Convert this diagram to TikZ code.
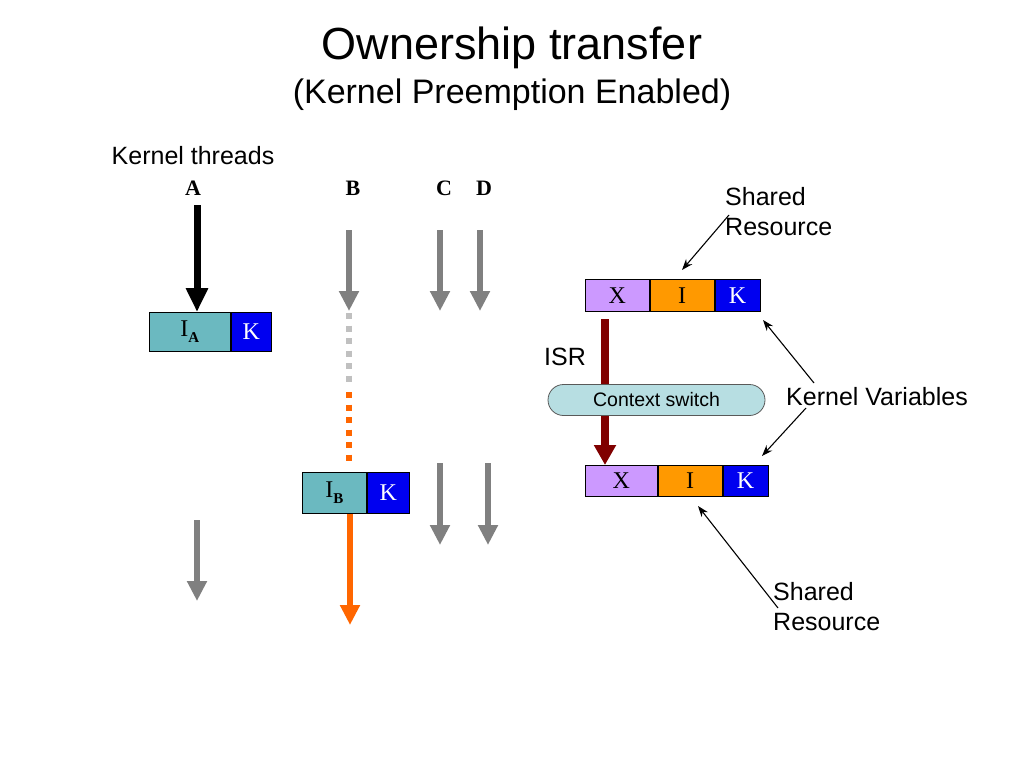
\documentclass[tikz,border=0pt]{standalone}
\usepackage{fontspec}
\setmainfont{Liberation Serif}
\newfontfamily\arialf{Liberation Sans}
\usetikzlibrary{arrows.meta,shapes.misc}
\definecolor{tealc}{RGB}{107,185,192}
\definecolor{kblue}{RGB}{0,0,240}
\definecolor{lav}{RGB}{204,153,255}
\definecolor{orng}{RGB}{255,153,0}
\definecolor{agray}{RGB}{128,128,128}
\definecolor{lgray}{RGB}{192,192,192}
\definecolor{orng2}{RGB}{255,102,0}
\definecolor{dred}{RGB}{128,0,0}
\definecolor{pillc}{RGB}{183,222,226}
\tikzset{
  cell/.style={draw=black, line width=0.8pt, inner sep=0pt, anchor=north west, font=\fontsize{24}{26}\selectfont},
  kcell/.style={cell, fill=kblue, text=white},
  sans/.style={font=\arialf\fontsize{25}{30}\selectfont, inner sep=0pt},
  thr/.style={font=\bfseries\fontsize{22}{24}\selectfont, inner sep=0pt},
  blockarrow/.style={line width=6pt, -{Triangle[width=19pt,length=20pt]}},
  thinarrow/.style={line width=1.1pt, -{Stealth[length=11pt,width=8pt]}},
  dotline/.style={line width=6pt, dash pattern=on 6pt off 6.5pt},
}
\begin{document}
\begin{tikzpicture}[x=1pt,y=-1pt]
\useasboundingbox (0,0) rectangle (1024,768);
\fill[white] (0,0) rectangle (1024,768);

% titles
\node[font=\arialf\fontsize{45}{50}\selectfont, inner sep=0pt] (title) at (512,48) {Ownership transfer};
\node[font=\arialf\fontsize{34}{38}\selectfont, inner sep=0pt] (subtitle) at (512,95) {(Kernel Preemption Enabled)};

% thread labels
\node[sans] (kt) at (193,156) {Kernel threads};
\node[thr] (la) at (193,188) {A};
\node[thr] (lb) at (353,188) {B};
\node[thr] (lc) at (444,188) {C};
\node[thr] (ld) at (484,188) {D};

% left boxes
\node[cell, fill=tealc, minimum width=81pt, minimum height=39pt] (ia) at (149,312) {I\raisebox{-6pt}{\fontsize{15}{15}\selectfont\bfseries A}};
\node[kcell, minimum width=40pt, minimum height=39pt] (iak) at (ia.north east) {K};

\node[cell, fill=tealc, minimum width=64pt, minimum height=41pt] (ib) at (302,472) {I\raisebox{-6pt}{\fontsize{15}{15}\selectfont\bfseries B}};
\node[kcell, minimum width=42pt, minimum height=41pt] (ibk) at (ib.north east) {K};

% arrows of threads
\coordinate (as) at (197,205);
\draw[blockarrow, line width=7pt, black, -{Triangle[width=21pt,length=24pt]}] (as) -- (as |- ia.north);

\coordinate (bs) at (349,230);
\coordinate (be) at (349,311);
\coordinate (cs1) at (440,230);
\coordinate (ce1) at (440,311);
\coordinate (ds1) at (480,230);
\coordinate (de1) at (480,311);
\draw[blockarrow, agray] (bs) -- (be);
\draw[blockarrow, agray] (cs1) -- (ce1);
\draw[blockarrow, agray] (ds1) -- (de1);

\coordinate (gd1) at (349,313);
\coordinate (gd2) at (349,386);
\coordinate (od1) at (349,392);
\coordinate (od2) at (349,464);
\draw[dotline, lgray] (gd1) -- (gd2);
\draw[dotline, orng2] (od1) -- (od2);

\coordinate (cs2) at (440,463);
\coordinate (ce2) at (440,545);
\coordinate (ds2) at (488,463);
\coordinate (de2) at (488,545);
\draw[blockarrow, agray] (cs2) -- (ce2);
\draw[blockarrow, agray] (ds2) -- (de2);

\coordinate (as2) at (197,520);
\coordinate (ae2) at (197,601);
\draw[blockarrow, agray] (as2) -- (ae2);

\coordinate (ob) at (350,513);
\coordinate (oe) at (350,625);
\draw[blockarrow, orng2] (ob |- ib.south) -- (oe);

% right: top box
\node[cell, fill=lav, minimum width=64pt, minimum height=32pt] (tx) at (585,279) {X};
\node[cell, fill=orng, minimum width=64pt, minimum height=32pt] (ti) at (tx.north east) {I};
\node[kcell, minimum width=45pt, minimum height=32pt] (tk) at (ti.north east) {K};

% bottom box
\node[cell, fill=lav, minimum width=72pt, minimum height=31pt] (bx) at (585,465) {X};
\node[cell, fill=orng, minimum width=64pt, minimum height=31pt] (bi) at (bx.north east) {I};
\node[kcell, minimum width=45pt, minimum height=31pt] (bk) at (bi.north east) {K};

% ISR arrow
\coordinate (isrs) at (605,319);
\draw[line width=8pt, dred, -{Triangle[width=21pt,length=20pt]}] (isrs) -- (isrs |- bx.north);
\node[sans] (isr) at (565,357) {ISR};

% context switch
\node[rounded rectangle, draw=black!65, line width=0.8pt, fill=pillc, minimum width=217pt, minimum height=31pt, inner sep=0pt,
      font=\arialf\fontsize{19.5}{22}\selectfont] (csw) at (656.5,400) {Context switch};

% Kernel variables
\node[sans] (kv) at (877,397) {Kernel Variables};
\coordinate (kv1s) at (814,383);
\coordinate (kv1e) at (763,320);
\coordinate (kv2s) at (806,408);
\coordinate (kv2e) at (762,456);
\draw[thinarrow] (kv1s) -- (kv1e);
\draw[thinarrow] (kv2s) -- (kv2e);

% Shared resource labels
\node[sans, align=left, anchor=north west] (sr1) at (725,187) {Shared\\Resource};
\coordinate (sr1s) at (729,215);
\coordinate (sr1e) at (682,270);
\draw[thinarrow] (sr1s) -- (sr1e);

\node[sans, align=left, anchor=north west] (sr2) at (773,582) {Shared\\Resource};
\coordinate (sr2s) at (778,608);
\coordinate (sr2e) at (698,506);
\draw[thinarrow] (sr2s) -- (sr2e);
\end{tikzpicture}
\end{document}
